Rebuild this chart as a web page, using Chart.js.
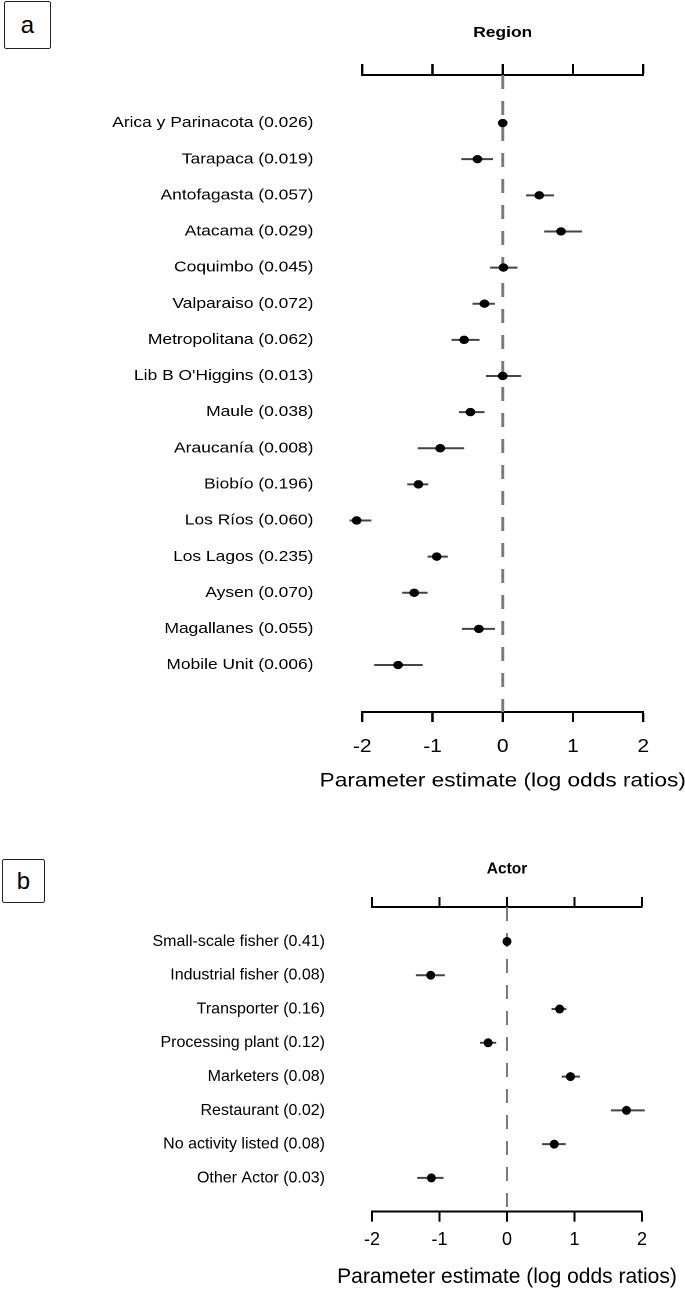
<!DOCTYPE html>
<html>
<head>
<meta charset="utf-8">
<script src="https://cdn.jsdelivr.net/npm/chart.js@4.4.1/dist/chart.umd.min.js"></script>
<style>
  body { margin: 0; background: #fff; font-family: 'Liberation Sans', Arial, sans-serif; }
  #page { position: relative; width: 685px; height: 1292px; overflow: hidden; }
  .panel { position: absolute; left: 0; transform-origin: 0 0; }
  .tag {
    position: absolute; box-sizing: border-box;
    border: 1.5px solid #222; border-radius: 2px;
    display: flex; align-items: center; justify-content: center;
    font-size: 24px; color: #000; background: #fff;
  }
</style>
</head>
<body>
<div id="page">
  <!-- panel a was stretched sideways in the figure, so its canvas is drawn narrower and scaled -->
  <div class="panel" style="top:0; width:590px; height:800px; transform:scaleX(1.161);">
    <canvas id="chartA" width="590" height="800"></canvas>
  </div>
  <div class="panel" style="top:820px; width:685px; height:472px;">
    <canvas id="chartB" width="685" height="472"></canvas>
  </div>
  <div class="tag" style="left:4px; top:1px; width:47px; height:48px;">a</div>
  <div class="tag" style="left:2px; top:859px; width:43px; height:44px;">b</div>
</div>

<script>
// Region model: estimate and interval (log odds ratios)
const regionLabels = [
  'Arica y Parinacota (0.026)', 'Tarapaca (0.019)', 'Antofagasta (0.057)', 'Atacama (0.029)',
  'Coquimbo (0.045)', 'Valparaiso (0.072)', 'Metropolitana (0.062)', "Lib B O'Higgins (0.013)",
  'Maule (0.038)', 'Araucanía (0.008)', 'Biobío (0.196)', 'Los Ríos (0.060)',
  'Los Lagos (0.235)', 'Aysen (0.070)', 'Magallanes (0.055)', 'Mobile Unit (0.006)'
];
const regionEst  = [0, -0.36, 0.52, 0.83, 0.01, -0.26, -0.55, 0.00, -0.46, -0.89, -1.20, -2.08, -0.94, -1.26, -0.34, -1.49];
const regionLow  = [0, -0.59, 0.33, 0.59, -0.18, -0.43, -0.73, -0.24, -0.62, -1.21, -1.36, -2.18, -1.07, -1.43, -0.58, -1.83];
const regionHigh = [0, -0.14, 0.73, 1.13, 0.21, -0.11, -0.33, 0.26, -0.26, -0.55, -1.06, -1.87, -0.78, -1.07, -0.11, -1.14];

// Actor model
const actorLabels = [
  'Small-scale fisher (0.41)', 'Industrial fisher (0.08)', 'Transporter (0.16)', 'Processing plant (0.12)',
  'Marketers (0.08)', 'Restaurant (0.02)', 'No activity listed (0.08)', 'Other Actor (0.03)'
];
const actorEst  = [0, -1.13, 0.78, -0.28, 0.94, 1.77, 0.70, -1.12];
const actorLow  = [0, -1.35, 0.66, -0.40, 0.81, 1.54, 0.52, -1.33];
const actorHigh = [0, -0.92, 0.88, -0.16, 1.08, 2.04, 0.87, -0.94];

const xRange = [-2, 2];
const xTitle = 'Parameter estimate (log odds ratios)';
const FONT = "'Liberation Sans', Arial, sans-serif";

// axis title drawn by hand: the built-in one gets squeezed to the plot width
const axisTitle = {
  id: 'axisTitle',
  afterDraw(chart, args, opts) {
    const s = chart.scales.x;
    const ctx = chart.ctx;
    ctx.save();
    ctx.font = opts.size + 'px ' + FONT;
    ctx.fillStyle = '#000';
    ctx.textAlign = 'center';
    ctx.textBaseline = 'middle';
    ctx.fillText(opts.text, (s.left + s.right) / 2, opts.y);
    ctx.restore();
  }
};

function forestChart(id, labels, est, low, high, o) {
  const rows = labels.map((_, i) => i);

  // dashed reference line at zero (drawn first, behind everything)
  const datasets = [{
    showLine: true,
    data: [{ x: 0, y: o.yMin }, { x: 0, y: o.yMax }],
    borderColor: '#7b7b7b',
    borderWidth: o.dashWidth,
    borderDash: [14, 12],
    pointRadius: 0,
    order: 2
  }];

  // one short line per interval, then the points on top
  rows.forEach(i => datasets.push({
    showLine: true,
    data: [{ x: low[i], y: i }, { x: high[i], y: i }],
    borderColor: '#444',
    borderWidth: 2,
    pointRadius: 0,
    clip: false,
    order: 1
  }));
  datasets.push({
    data: rows.map(i => ({ x: est[i], y: i })),
    backgroundColor: '#000',
    borderColor: '#000',
    pointRadius: o.dot,
    clip: false,
    order: 0
  });

  const axisBorder = { display: true, color: '#000', width: 2 };

  return new Chart(document.getElementById(id), {
    type: 'scatter',
    data: { datasets: datasets },
    plugins: [axisTitle],
    options: {
      responsive: false,
      animation: false,
      devicePixelRatio: 2,
      layout: { padding: { left: 0, right: o.right, top: 0, bottom: o.bottom } },
      plugins: {
        legend: { display: false },
        tooltip: { enabled: false },
        axisTitle: { text: xTitle, size: o.titleSize, y: o.titleY }
      },
      scales: {
        x: {
          type: 'linear', position: 'bottom', min: xRange[0], max: xRange[1],
          ticks: { stepSize: 1, padding: o.tickPad, color: '#000', font: { family: FONT, size: 18 } },
          grid: { drawOnChartArea: false, tickLength: 10, tickWidth: 2, tickColor: '#000' },
          border: axisBorder
        },
        x2: {
          type: 'linear', position: 'top', min: xRange[0], max: xRange[1],
          ticks: { stepSize: 1, display: false },
          grid: { drawOnChartArea: false, tickLength: o.topTick, tickWidth: 2, tickColor: '#000' },
          border: axisBorder,
          title: {
            display: true, text: o.head, color: '#000',
            font: { family: FONT, size: o.headSize, weight: 'bold' },
            padding: o.headPad
          }
        },
        y: {
          type: 'linear', reverse: true, min: o.yMin, max: o.yMax,
          afterBuildTicks: s => { s.ticks = rows.map(i => ({ value: i })); },
          afterFit: s => { s.width = o.yWidth; },
          ticks: {
            autoSkip: false, padding: o.yPad, color: '#000',
            font: { family: FONT, size: o.labelSize },
            callback: v => labels[v]
          },
          grid: { display: false, drawTicks: false },
          border: { display: false }
        }
      }
    }
  });
}

forestChart('chartA', regionLabels, regionEst, regionLow, regionHigh, {
  head: 'Region', headSize: 15, headPad: { top: 24, bottom: 22 }, topTick: 11,
  yMin: -1.33, yMax: 16.3, yWidth: 312, yPad: 42, labelSize: 15,
  tickPad: 14, bottom: 28.4, titleSize: 19.5, titleY: 781, right: 36,
  dot: 3.7, dashWidth: 2.5
});

forestChart('chartB', actorLabels, actorEst, actorLow, actorHigh, {
  head: 'Actor', headSize: 15.5, headPad: { top: 40, bottom: 18.4 }, topTick: 10,
  yMin: -1.02, yMax: 8.0, yWidth: 372, yPad: 47, labelSize: 16,
  tickPad: 7.5, bottom: 33.7, titleSize: 21, titleY: 457, right: 43,
  dot: 4, dashWidth: 2
});
</script>
</body>
</html>
